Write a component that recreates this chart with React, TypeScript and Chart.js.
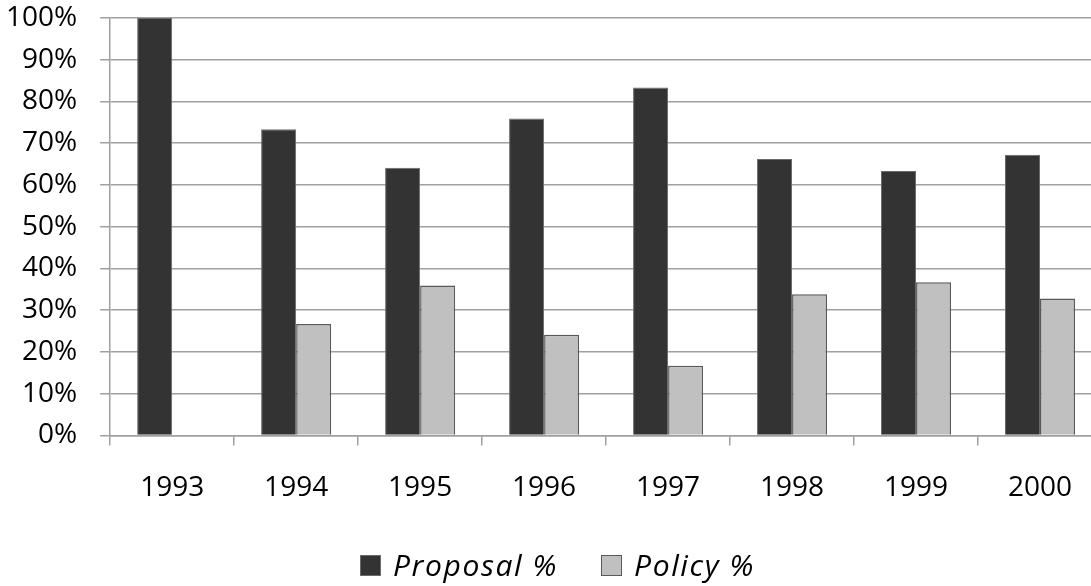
import React, { useEffect, useRef } from "react";
import { Chart, registerables } from "chart.js";

Chart.register(...registerables);

const years = ["1993", "1994", "1995", "1996", "1997", "1998", "1999", "2000"];
const proposalPct = [100, 73.3, 64.1, 75.9, 83.3, 66.2, 63.3, 67.2];
const policyPct = [0, 26.7, 35.9, 24.1, 16.7, 33.8, 36.7, 32.8];
const seriesNames = ["Proposal %", "Policy %"];
const seriesColors = ["#333333", "#c0c0c0"];
const seriesBorders = ["#6a6a6a", "#595959"];

const FONT = "'Open Sans', 'DejaVu Sans', sans-serif";

export default function App() {
  const ref = useRef<HTMLCanvasElement | null>(null);

  useEffect(() => {
    if (!ref.current) return;
    const chart = new Chart(ref.current, {
      type: "bar",
      data: {
        labels: years,
        datasets: [
          {
            label: seriesNames[0],
            data: proposalPct,
            backgroundColor: seriesColors[0],
            borderColor: seriesBorders[0],
            borderWidth: 1,
            categoryPercentage: 0.565,
            barPercentage: 1,
          },
          {
            label: seriesNames[1],
            data: policyPct,
            backgroundColor: seriesColors[1],
            borderColor: seriesBorders[1],
            borderWidth: (c: any) => (c.raw === 0 ? 0 : 1.5),
            categoryPercentage: 0.565,
            barPercentage: 1,
          },
        ],
      },
      options: {
        responsive: false,
        animation: false,
        devicePixelRatio: 1,
        layout: { padding: { left: -15, right: 8, top: 0, bottom: 55 } },
        plugins: {
          tooltip: { enabled: false },
          legend: { display: false },
        },
        scales: {
          x: {
            grid: {
              drawOnChartArea: false,
              drawTicks: true,
              tickLength: 10,
              color: "#a0a0a0",
              lineWidth: 1.5,
            },
            border: { color: "#a0a0a0", width: 1.5 },
            ticks: {
              color: "#000",
              padding: 26,
              font: { family: FONT, size: 28 },
            },
          },
          y: {
            min: 0,
            max: 100,
            grid: {
              drawTicks: true,
              tickLength: 10,
              color: "#a0a0a0",
              lineWidth: 1.5,
            },
            border: { color: "#a0a0a0", width: 1.5 },
            ticks: {
              stepSize: 10,
              color: "#000",
              padding: 23,
              font: { family: FONT, size: 28 },
              callback: (v: any) => v + "%",
            },
          },
        },
      },
    });
    return () => chart.destroy();
  }, []);

  const legendItem = (i: number, gapAfter: number) => (
    <div key={i} style={{ display: "flex", alignItems: "center", marginRight: gapAfter }}>
      <span
        style={{
          display: "inline-block",
          width: 19,
          height: 19,
          background: seriesColors[i],
          border: `1.5px solid ${seriesBorders[i]}`,
          marginRight: 12,
        }}
      />
      <span
        style={{
          fontFamily: FONT,
          fontStyle: "italic",
          fontSize: 30,
          letterSpacing: "1.6px",
          lineHeight: "28px",
          color: "#000",
        }}
      >
        {seriesNames[i]}
      </span>
    </div>
  );

  return (
    <div
      style={{
        position: "fixed",
        left: 0,
        top: 0,
        width: 1091,
        height: 586,
        overflow: "hidden",
        background: "#fff",
      }}
    >
      <canvas
        ref={ref}
        width={1112}
        height={608}
        style={{ width: 1112, height: 608, display: "block", marginLeft: -2, marginTop: -22 }}
      />
      <div
        style={{
          position: "absolute",
          left: 360,
          top: 551,
          height: 28,
          display: "flex",
          alignItems: "center",
          whiteSpace: "nowrap",
        }}
      >
        {legendItem(0, 43)}
        {legendItem(1, 0)}
      </div>
    </div>
  );
}
